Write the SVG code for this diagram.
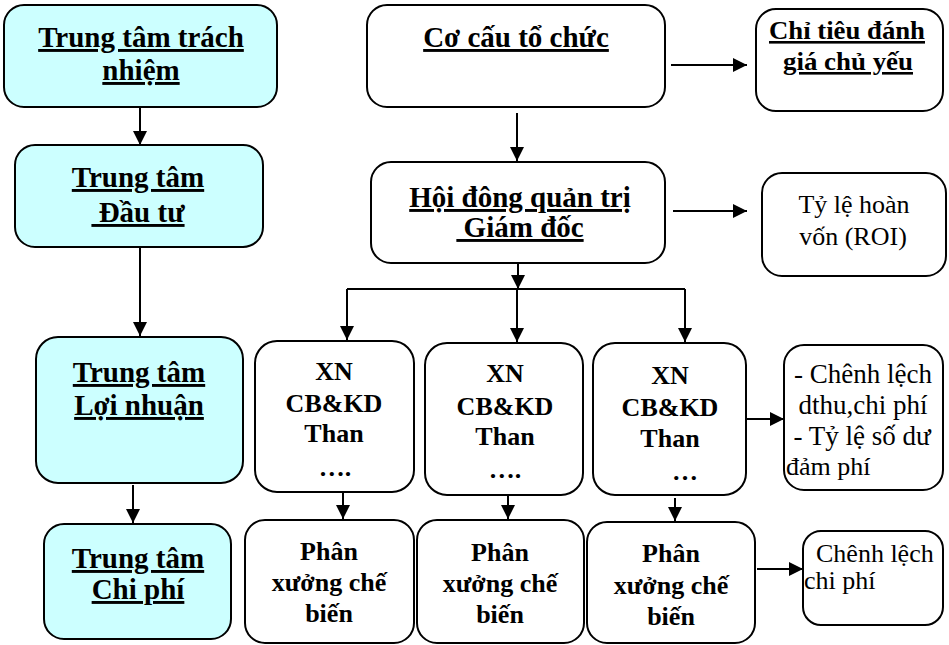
<svg xmlns="http://www.w3.org/2000/svg" width="949" height="645" viewBox="0 0 949 645">
<style>
.box{fill:#fff;stroke:#000;stroke-width:2}
.cyan{fill:#ccffff}
text{font-family:"Liberation Serif","Times New Roman",serif;fill:#000}
.b{font-weight:bold;font-size:26px;text-anchor:middle}
.bm{font-weight:bold;font-size:29px;text-anchor:middle}
.bl{font-weight:bold;font-size:29px;text-anchor:middle}
.u{text-decoration:underline}
.r{font-size:26px;text-anchor:middle}
.r7{font-size:27px;text-anchor:middle}
.rs{font-size:26px}
.con line,.con path{stroke:#000;stroke-width:2;fill:none}
</style>
<defs>
<marker id="ah" markerUnits="userSpaceOnUse" markerWidth="14" markerHeight="14" refX="14" refY="7" orient="auto">
<path d="M0,0 L14,7 L0,14 z" fill="#000"/>
</marker>
</defs>
<g class="con">
<line x1="140" y1="107" x2="140" y2="145" marker-end="url(#ah)"/>
<line x1="140" y1="247" x2="140" y2="336" marker-end="url(#ah)"/>
<line x1="133" y1="485" x2="133" y2="523" marker-end="url(#ah)"/>
<line x1="517" y1="113" x2="517" y2="161" marker-end="url(#ah)"/>
<line x1="518" y1="263" x2="518" y2="289" marker-end="url(#ah)"/>
<line x1="347" y1="289" x2="685" y2="289"/>
<line x1="347" y1="289" x2="347" y2="340" marker-end="url(#ah)"/>
<line x1="517" y1="289" x2="517" y2="342" marker-end="url(#ah)"/>
<line x1="685" y1="289" x2="685" y2="342" marker-end="url(#ah)"/>
<line x1="671" y1="65" x2="747" y2="65" marker-end="url(#ah)"/>
<line x1="673" y1="211" x2="747" y2="211" marker-end="url(#ah)"/>
<line x1="746" y1="419" x2="784" y2="419" marker-end="url(#ah)"/>
<line x1="343" y1="492" x2="343" y2="519" marker-end="url(#ah)"/>
<line x1="508" y1="495" x2="508" y2="519" marker-end="url(#ah)"/>
<line x1="675" y1="498" x2="675" y2="521" marker-end="url(#ah)"/>
<line x1="757" y1="569" x2="803" y2="569" marker-end="url(#ah)"/>
</g>
<g id="n-trachnhiem">
<rect class="box cyan" x="4" y="5" width="273" height="102" rx="20"/>
<text class="bl u" x="141" y="47">Trung tâm trách</text>
<text class="bl u" x="141" y="80">nhiệm</text>
</g>
<g id="n-dautu">
<rect class="box cyan" x="15" y="145" width="248" height="102" rx="20"/>
<text class="bl u" x="138" y="187">Trung tâm</text>
<text class="bl u" x="138" y="222">&#160;Đầu tư</text>
</g>
<g id="n-loinhuan">
<rect class="box cyan" x="36" y="337" width="207" height="146" rx="22"/>
<text class="bl u" x="139" y="382">Trung tâm</text>
<text class="bl u" x="139" y="415">Lợi nhuận</text>
</g>
<g id="n-chiphi">
<rect class="box cyan" x="44" y="524" width="187" height="115" rx="20"/>
<text class="bl u" x="138" y="568">Trung tâm</text>
<text class="bl u" x="138" y="599">Chi phí</text>
</g>
<g id="n-cocau">
<rect class="box" x="367" y="5" width="298" height="102" rx="20"/>
<text class="bm u" x="516" y="47">Cơ cấu tổ chức</text>
</g>
<g id="n-hoidong">
<rect class="box" x="371" y="162" width="294" height="101" rx="20"/>
<text class="bm u" x="520" y="207">Hội đông quản trị</text>
<text class="bm u" x="520" y="237">&#160;Giám đốc</text>
</g>
<g id="n-chitieu">
<rect class="box" x="756" y="9" width="187" height="102" rx="20"/>
<text class="b u" x="847" y="39" textLength="156" lengthAdjust="spacingAndGlyphs">Chỉ tiêu đánh</text>
<text class="b u" x="848" y="70" textLength="130" lengthAdjust="spacingAndGlyphs">giá chủ yếu</text>
</g>
<g id="n-roi">
<rect class="box" x="762" y="173" width="184" height="103" rx="20"/>
<text class="r" x="854" y="213">Tỷ lệ hoàn</text>
<text class="r" x="853" y="245">vốn (ROI)</text>
</g>
<g id="n-xn1">
<rect class="box" x="255" y="341" width="159" height="151" rx="22"/>
<text class="b" x="334" y="380">XN</text>
<text class="b" x="334" y="412">CB&amp;KD</text>
<text class="b" x="334" y="442">Than</text>
<text class="b" x="335" y="476">….</text>
</g>
<g id="n-xn2">
<rect class="box" x="425" y="343" width="158" height="152" rx="22"/>
<text class="b" x="505" y="382">XN</text>
<text class="b" x="505" y="415">CB&amp;KD</text>
<text class="b" x="505" y="445">Than</text>
<text class="b" x="505" y="478">….</text>
</g>
<g id="n-xn3">
<rect class="box" x="593" y="343" width="153" height="152" rx="22"/>
<text class="b" x="670" y="384">XN</text>
<text class="b" x="670" y="416">CB&amp;KD</text>
<text class="b" x="670" y="447">Than</text>
<text class="b" x="685" y="480">…</text>
</g>
<g id="n-chenhlech1">
<rect class="box" x="784" y="345" width="159" height="145" rx="20"/>
<text class="r7" x="863" y="383">- Chênh lệch</text>
<text class="r7" x="863" y="414">dthu,chi phí</text>
<text class="r7" x="862" y="445">- Tỷ lệ số dư</text>
<text class="rs" x="786" y="475" font-size="27">đảm phí</text>
</g>
<g id="n-px1">
<rect class="box" x="245" y="520" width="169" height="123" rx="20"/>
<text class="b" x="329" y="560">Phân</text>
<text class="b" x="329" y="591">xưởng chế</text>
<text class="b" x="329" y="622">biến</text>
</g>
<g id="n-px2">
<rect class="box" x="417" y="520" width="167" height="123" rx="20"/>
<text class="b" x="500" y="561">Phân</text>
<text class="b" x="500" y="592">xưởng chế</text>
<text class="b" x="500" y="623">biến</text>
</g>
<g id="n-px3">
<rect class="box" x="587" y="522" width="168" height="121" rx="20"/>
<text class="b" x="671" y="562">Phân</text>
<text class="b" x="671" y="594">xưởng chế</text>
<text class="b" x="671" y="625">biến</text>
</g>
<g id="n-chenhlech2">
<rect class="box" x="803" y="531" width="140" height="94" rx="18"/>
<text class="rs" x="816" y="562">Chênh lệch</text>
<text class="rs" x="804" y="589">chi phí</text>
</g>
</svg>
